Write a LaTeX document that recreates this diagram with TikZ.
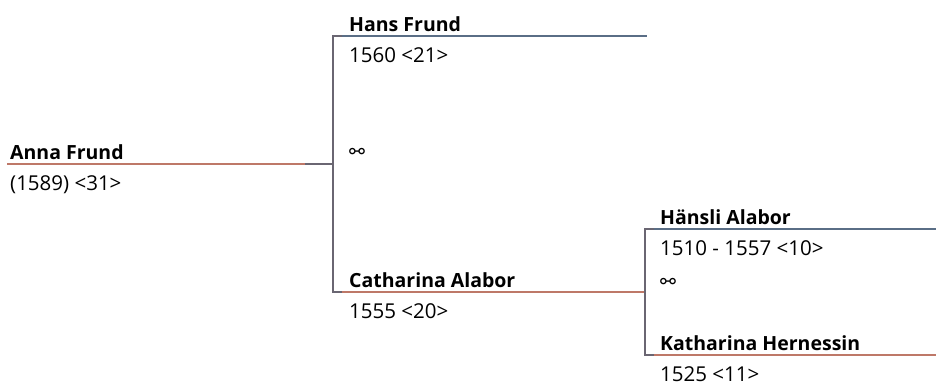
\documentclass[tikz,border=0pt]{standalone}
\usepackage{fontspec}
\setmainfont{Open Sans}
\newfontfamily\symfont{DejaVu Sans}
\definecolor{femline}{RGB}{190,120,104}
\definecolor{maleline}{RGB}{90,110,134}
\definecolor{brack}{RGB}{106,102,114}
\tikzset{
  nm/.style={anchor=base west, inner sep=0pt, font=\fontsize{19.5}{22}\selectfont\bfseries},
  dt/.style={anchor=base west, inner sep=0pt, font=\fontsize{20.5}{22}\selectfont},
  sym/.style={anchor=base west, inner sep=0pt, font=\fontsize{19}{20}\symfont},
  fl/.style={draw=femline, line width=2.4pt},
  ml/.style={draw=maleline, line width=2.4pt},
  bl/.style={draw=brack, line width=2.6pt},
}
\begin{document}
\begin{tikzpicture}[x=1pt,y=-1pt]
\useasboundingbox (0,0) rectangle (936,386);
% coordinates
\coordinate (a0) at (7,164);
\coordinate (a1) at (305,164);
\coordinate (b1) at (333,164);
\coordinate (bt) at (333,36);
\coordinate (bts) at (342,36);
\coordinate (bb) at (333,292);
\coordinate (bbs) at (342,292);
\coordinate (h1) at (647,36);
\coordinate (c1) at (645,292);
\coordinate (ct) at (645,229);
\coordinate (cts) at (654,229);
\coordinate (cb) at (645,355);
\coordinate (cbs) at (654,355);
\coordinate (k1) at (936,229);
\coordinate (k2) at (936,355);
% lines
\draw[fl] (a0) -- (a1);
\draw[ml] (bts) -- (h1);
\draw[fl] (bbs) -- (c1);
\draw[ml] (cts) -- (k1);
\draw[fl] (cbs) -- (k2);
\draw[bl] (a1) -- (b1);
\draw[bl] (bts) -- (bt) -- (bb) -- (bbs);
\draw[bl] (cts) -- (ct) -- (cb) -- (cbs);
% texts
\node[nm] (anna) at (10,159) {Anna Frund};
\node[dt] (annaD) at (10,190) {(1589) <31>};
\node[nm] (hans) at (349,31) {Hans Frund};
\node[dt] (hansD) at (349,62) {1560 <21>};
\node[sym] (m1) at (349,158) {⚯};
\node[nm] (cath) at (349,287) {Catharina Alabor};
\node[dt] (cathD) at (349,318) {1555 <20>};
\node[nm] (haen) at (660,224) {Hänsli Alabor};
\node[dt] (haenD) at (660,255) {1510 - 1557 <10>};
\node[sym] (m2) at (660,288) {⚯};
\node[nm] (kath) at (660,350) {Katharina Hernessin};
\node[dt] (kathD) at (660,381) {1525 <11>};
\end{tikzpicture}
\end{document}
